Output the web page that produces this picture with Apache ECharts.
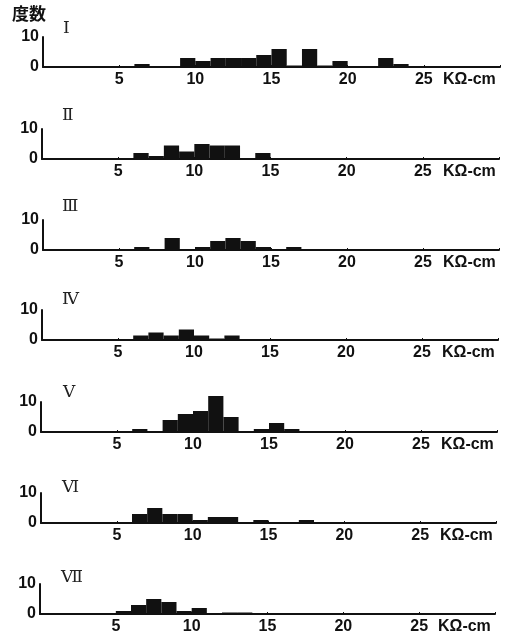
<!DOCTYPE html>
<html><head><meta charset="utf-8">
<script src="https://cdn.jsdelivr.net/npm/echarts@6/dist/echarts.min.js"></script>
<style>html,body{margin:0;padding:0;background:#fff}#c{width:508px;height:641px}</style>
</head><body><div id="c"></div>
<script>
// bin start values (each bin spans [k, k+1] KΩ-cm)
const bins = [5,6,7,8,9,10,11,12,13,14,15,16,17,18,19,20,21,22,23,24];
const xTicks = [5,10,15,20,25];
const yTicks = [0,10];
const panelNames = ['Ⅰ','Ⅱ','Ⅲ','Ⅳ','Ⅴ','Ⅵ','Ⅶ'];
const unitLabel = 'KΩ-cm';
const yTitle = '度数';
const freqI   = [0,1,0,0,3,2,3,3,3,4,6,0.5,6,0.5,2,0,0,3,1,0];
const freqII  = [0,2,1,4.5,2.5,5,4.5,4.5,0,2,0,0,0,0,0,0,0,0,0,0];
const freqIII = [0,1,0,4,0,1,3,4,3,1,0,1,0,0,0,0,0,0,0,0];
const freqIV  = [0,1.5,2.5,1.5,3.5,1.5,0.5,1.5,0,0,0,0,0,0,0,0,0,0,0,0];
const freqV   = [0,1,0,4,6,7,12,5,0,1,3,1,0,0,0,0,0,0,0,0];
const freqVI  = [0,3,5,3,3,1,2,2,0,1,0,0,1,0,0,0,0,0,0,0];
const freqVII = [1,3,5,4,1,2,0,0.5,0.5,0,0,0,0,0,0,0,0,0,0,0];
const panels = [freqI,freqII,freqIII,freqIV,freqV,freqVI,freqVII];

// layout (pixels)
const layout = [
  {left:43, base:67,  width:457, nx:63, ny:29, ux:443},
  {left:42, base:159, width:457, nx:62, ny:116, ux:443},
  {left:43, base:250, width:456, nx:62, ny:207, ux:443},
  {left:42, base:340, width:456, nx:62, ny:300, ux:442},
  {left:41, base:432, width:456, nx:63, ny:393, ux:441},
  {left:41, base:523, width:455, nx:62, ny:488, ux:440},
  {left:40, base:614, width:455, nx:61, ny:578, ux:438}
];
const H = 30;
const FONT = '"Liberation Sans", Arial, sans-serif';

const grid=[], xAxis=[], yAxis=[], series=[], graphic=[];
layout.forEach((L,i)=>{
  grid.push({left:L.left, top:L.base-H, width:L.width, height:H});
  xAxis.push({type:'value', gridIndex:i, min:0, max:30, interval:5,
    axisLine:{show:true, onZero:false, lineStyle:{color:'#111', width:2}},
    axisTick:{show:true, inside:true, length:2, lineStyle:{color:'#111'}},
    splitLine:{show:false},
    axisLabel:{color:'#111', fontFamily:FONT, fontWeight:'bold', fontSize:16, margin:5,
      formatter:v=> xTicks.includes(v)? String(v):''}});
  yAxis.push({type:'value', gridIndex:i, min:0, max:10, interval:10,
    axisLine:{show:true, lineStyle:{color:'#111', width:2}},
    axisTick:{show:false}, splitLine:{show:false},
    axisLabel:{color:'#111', fontFamily:FONT, fontWeight:'bold', fontSize:16, margin:4,
      formatter:v=> yTicks.includes(v)? String(v):''}});
  series.push({type:'custom', xAxisIndex:i, yAxisIndex:i, clip:false,
    data: bins.map((b,j)=>[b, panels[i][j]]),
    renderItem:(params, api)=>{
      const x0=api.value(0), v=api.value(1);
      if(!v) return null;
      const p0=api.coord([x0, v]), p1=api.coord([x0+1, 0]);
      return {type:'rect', shape:{x:p0[0], y:p0[1], width:p1[0]-p0[0], height:p1[1]-p0[1]},
        style:{fill:'#111'}};
    }});
  graphic.push({type:'text', left:L.nx, top:L.ny-9,
    style:{text:panelNames[i], font:'17px "Liberation Serif", "DejaVu Serif", serif', fill:'#222'}});
  graphic.push({type:'text', left:L.ux, top:L.base+5,
    style:{text:unitLabel, font:'bold 16px '+FONT, fill:'#111'}});
});
graphic.push({type:'text', left:12, top:5,
  style:{text:yTitle, font:'bold 17px "Noto Sans CJK JP", sans-serif', fill:'#111'}});

const chart = echarts.init(document.getElementById('c'), null, {renderer:'canvas'});
chart.setOption({backgroundColor:'#fff', animation:false, grid, xAxis, yAxis, series, graphic});
</script></body></html>
